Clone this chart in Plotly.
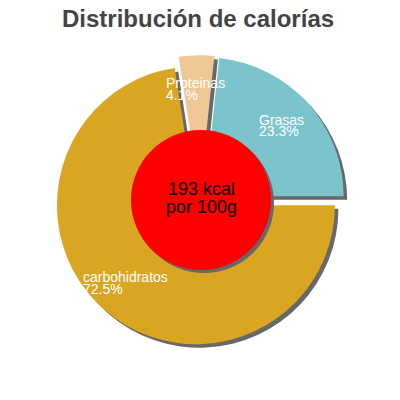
import plotly.graph_objects as go

# ---- data ----
labels = ["Grasas", "carbohidratos", "Proteinas"]
values = [23.3, 72.5, 4.1]
colors = ["#7bc4cc", "#daa520", "#efc794"]
center_lines = ["193 kcal", "por 100g"]
title_text = "Distribución de calorías"

# ---- geometry (pixels in the 400x400 window) ----
W = H = 400
OFF = 8  # page body margin
cx, cy = 200, 200.5
R = 139
pull = 0.045
half = R * (1 + pull)
sdx, sdy = 3.5, 3.5
shadow_color = "#686868"
font_family = "Liberation Sans, Arial, sans-serif"


def px(x):
    return (x - OFF) / W


def py(y):
    return 1 - (y - OFF) / H


def dom(dx, dy):
    return dict(
        x=[px(cx + dx - half), px(cx + dx + half)],
        y=[py(cy + dy + half), py(cy + dy - half)],
    )


common = dict(
    labels=labels,
    values=values,
    sort=False,
    direction="clockwise",
    rotation=6,
    hole=0.45,
    pull=[pull] * len(values),
    textinfo="none",
    hoverinfo="skip",
    showlegend=False,
)

fig = go.Figure()
fig.add_trace(go.Pie(domain=dom(sdx, sdy),
                     marker=dict(colors=[shadow_color] * len(values), line=dict(width=0)),
                     **common))
fig.add_trace(go.Pie(domain=dom(0, 0),
                     marker=dict(colors=colors, line=dict(width=0)),
                     **common))

# center circle with shadow
ccx, ccy, cr = 201, 200, 70
shapes = [
    dict(type="circle", xref="paper", yref="paper", layer="above",
         x0=px(ccx + 3 - cr), x1=px(ccx + 3 + cr), y0=py(ccy + 3 + cr), y1=py(ccy + 3 - cr),
         fillcolor=shadow_color, line=dict(width=0)),
    dict(type="circle", xref="paper", yref="paper", layer="above",
         x0=px(ccx - cr), x1=px(ccx + cr), y0=py(ccy + cr), y1=py(ccy - cr),
         fillcolor="#ff0000", line=dict(width=0)),
]

annotations = []
# center text
for line, ypos in zip(center_lines, [189, 207]):
    annotations.append(dict(text=line, x=px(ccx), y=py(ypos), xref="paper", yref="paper",
                            showarrow=False, xanchor="center", yanchor="middle",
                            font=dict(size=18, color="#000000", family=font_family)))

# slice labels
label_pos = {"Proteinas": (165, 83.5), "Grasas": (258, 119.5), "carbohidratos": (82, 277)}
for lab, val in zip(labels, values):
    lx, ly = label_pos[lab]
    for t, dy in [(lab, 0), (f"{val:.1f}%", 11.5)]:
        annotations.append(dict(text=t, x=px(lx), y=py(ly + dy), xref="paper", yref="paper",
                                showarrow=False, xanchor="left", yanchor="middle",
                                borderpad=0,
                                font=dict(size=14, color="#ffffff", family=font_family)))

# title
annotations.append(dict(text=f"<b>{title_text}</b>", x=px(198), y=py(19), xref="paper", yref="paper",
                        showarrow=False, xanchor="center", yanchor="middle", borderpad=0,
                        font=dict(size=24, color="#444444", family=font_family)))

fig.update_layout(
    width=W, height=H,
    margin=dict(l=0, r=0, t=0, b=0),
    paper_bgcolor="#ffffff",
    plot_bgcolor="#ffffff",
    shapes=shapes,
    annotations=annotations,
)

fig.write_html("out.html")
